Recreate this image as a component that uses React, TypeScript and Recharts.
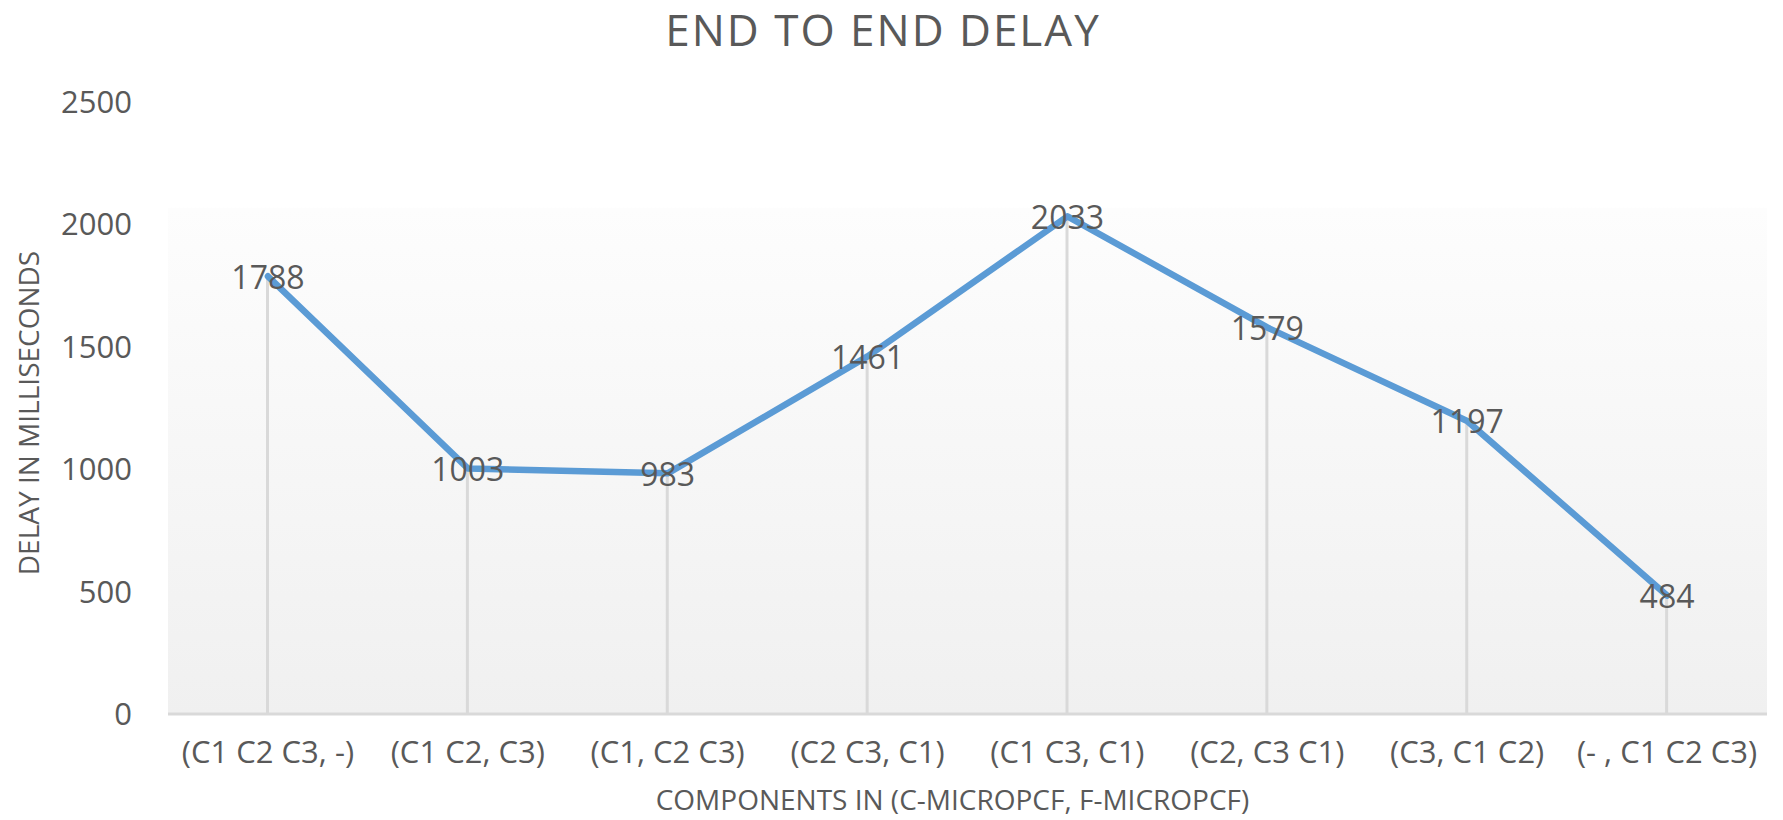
import React from "react";
import {
  ComposedChart,
  Line,
  Bar,
  XAxis,
  YAxis,
  CartesianGrid,
  LabelList,
  Label,
} from "recharts";

const categories = [
  "(C1 C2 C3, -)",
  "(C1 C2, C3)",
  "(C1, C2 C3)",
  "(C2 C3, C1)",
  "(C1 C3, C1)",
  "(C2, C3 C1)",
  "(C3, C1 C2)",
  "(- , C1 C2 C3)",
];
const delays = [1788, 1003, 983, 1461, 2033, 1579, 1197, 484];
const yTicks = [0, 500, 1000, 1500, 2000, 2500];

const data = categories.map((c, i) => ({ name: c, delay: delays[i] }));

const FONT = "'Open Sans', 'DejaVu Sans', sans-serif";
const GRAY = "#595959";

const renderDataLabel = (props: any) => {
  const { x, y, value } = props;
  return (
    <text
      x={x}
      y={y}
      textAnchor="middle"
      dominantBaseline="central"
      fontFamily={FONT}
      fontSize={32}
      fill={GRAY}
    >
      {value}
    </text>
  );
};

const renderYTitle = (props: any) => {
  const vb = props.viewBox || {};
  const cx = 20;
  const cy = (vb.y ?? 94) + (vb.height ?? 612) / 2 + 5;
  return (
    <text
      x={cx}
      y={cy}
      transform={`rotate(-90 ${cx} ${cy})`}
      textAnchor="middle"
      dominantBaseline="central"
      fontFamily={FONT}
      fontSize={28}
      fill={GRAY}
    >
      DELAY IN MILLISECONDS
    </text>
  );
};

const renderXTitle = (props: any) => {
  const vb = props.viewBox || {};
  const cx = (vb.x ?? 160) + (vb.width ?? 1599) / 2 - 15;
  const cy = 791;
  return (
    <text
      x={cx}
      y={cy}
      textAnchor="middle"
      dominantBaseline="central"
      fontFamily={FONT}
      fontSize={28}
      fill={GRAY}
    >
      COMPONENTS IN (C-MICROPCF, F-MICROPCF)
    </text>
  );
};

export default function App() {
  return (
    <div style={{ position: "relative", width: 1775, height: 812 }}>
      <div
        style={{
          position: "absolute",
          top: -1,
          left: 0,
          width: 1750,
          textAlign: "center",
          fontFamily: FONT,
          fontSize: 44,
          lineHeight: "44px",
          letterSpacing: 2,
          color: GRAY,
          zIndex: 2,
        }}
      >
        END TO END DELAY
      </div>
      <ComposedChart
        width={1775}
        height={812}
        data={data}
        margin={{ top: 94, right: 16, left: 0, bottom: 0 }}
      >
        <defs>
          <linearGradient id="plotBg" x1="0" y1="0" x2="0" y2="1">
            <stop offset="0" stopColor="#ffffff" />
            <stop offset="0.172" stopColor="#ffffff" />
            <stop offset="0.174" stopColor="#fdfdfd" />
            <stop offset="1" stopColor="#f0f0f0" />
          </linearGradient>
        </defs>
        <CartesianGrid
          horizontal={false}
          vertical={false}
          fill="url(#plotBg)"
          fillOpacity={1}
        />
        <XAxis
          dataKey="name"
          height={106}
          axisLine={{ stroke: "#d9d9d9", strokeWidth: 3 }}
          tickLine={false}
          tickSize={0}
          tickMargin={27}
          interval={0}
          tick={{
            fontFamily: FONT,
            fontSize: 31,
            fill: GRAY,
          }}
        >
          <Label content={renderXTitle} />
        </XAxis>
        <YAxis
          width={160}
          domain={[0, 2500]}
          ticks={yTicks}
          axisLine={false}
          tickLine={false}
          tickSize={0}
          tickMargin={36}
          tick={{ fontFamily: FONT, fontSize: 31, fill: GRAY }}
        >
          <Label content={renderYTitle} />
        </YAxis>
        <Bar
          dataKey="delay"
          barSize={3}
          fill="#d9d9d9"
          isAnimationActive={false}
        />
        <Line
          type="linear"
          dataKey="delay"
          stroke="#5b9bd5"
          strokeWidth={6.5}
          strokeLinejoin="round"
          strokeLinecap="round"
          dot={false}
          activeDot={false}
          isAnimationActive={false}
        >
          <LabelList dataKey="delay" content={renderDataLabel} />
        </Line>
      </ComposedChart>
    </div>
  );
}
